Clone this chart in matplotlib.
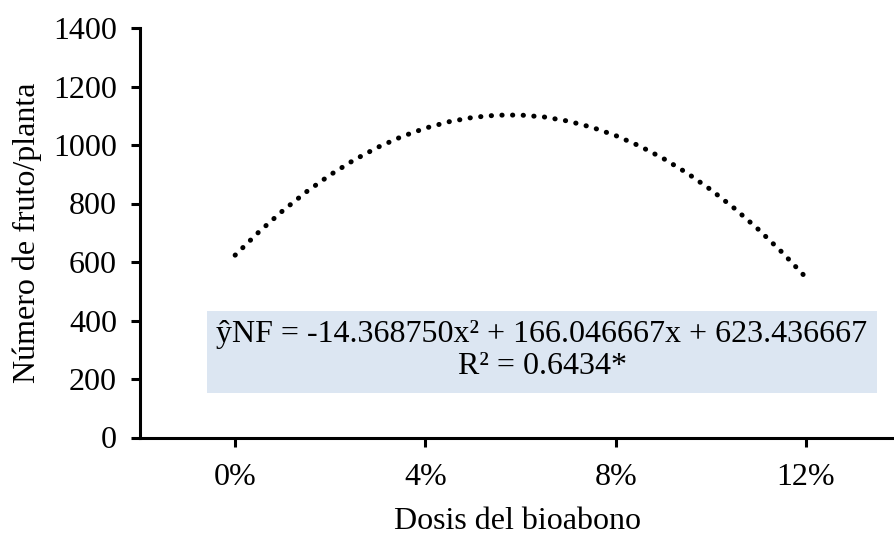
import matplotlib
matplotlib.use("Agg")
import matplotlib.pyplot as plt

# Data (dotted quadratic trend)
dose = [0, 0.5, 1, 1.5, 2, 2.5, 3, 3.5, 4, 4.5, 5, 5.5, 6, 6.5, 7, 7.5, 8,
        8.5, 9, 9.5, 10, 10.5, 11, 11.5, 12]
fruits = [623.4, 702.9, 775.1, 840.2, 898.1, 948.8, 992.3, 1028.6, 1057.7,
          1079.7, 1094.5, 1102.0, 1102.4, 1095.7, 1081.7, 1060.5, 1032.2,
          996.7, 954.0, 904.1, 847.0, 782.8, 711.3, 632.7, 546.9]
xticks = [0, 4, 8, 12]
xticklabels = ["0%", "4%", "8%", "12%"]
yticks = [0, 200, 400, 600, 800, 1000, 1200, 1400]
eq_text = "ŷNF = -14.368750x² + 166.046667x + 623.436667\nR² = 0.6434*"

plt.rcParams['font.family'] = ['Liberation Serif', 'DejaVu Serif']
FS = 23

fig = plt.figure(figsize=(8.94, 5.35), dpi=100)
ax = fig.add_axes([140/894, 1-437.5/535, 1-140/894, (437.5-28)/535])

ax.plot(dose, fruits, color='black', linewidth=3.6,
        linestyle=(0, (0.05, 2.08)), dash_capstyle='round', solid_capstyle='round')

ax.set_xlim(-2, 13.85)
ax.set_ylim(0, 1400)
ax.set_xticks(xticks)
ax.set_xticklabels(xticklabels)
ax.set_yticks(yticks)

for s in ['top', 'right']:
    ax.spines[s].set_visible(False)
for s in ['left', 'bottom']:
    ax.spines[s].set_linewidth(2.2)
ax.tick_params(axis='both', direction='out', length=6.5, width=2.2,
               labelsize=FS)
ax.tick_params(axis='y', pad=10)
ax.tick_params(axis='x', pad=12)

ax.set_xlabel("Dosis del bioabono", fontsize=FS, labelpad=11)
ax.set_ylabel("Número de fruto/planta", fontsize=FS, labelpad=8)

# Equation box
box_x0 = (207 - 140) / (894 - 140)
box_x1 = (877 - 140) / (894 - 140)
box_y0 = (437.5 - 392.5) / (437.5 - 28)
box_y1 = (437.5 - 311) / (437.5 - 28)
ax.add_patch(plt.Rectangle((box_x0, box_y0), box_x1 - box_x0, box_y1 - box_y0,
                           transform=ax.transAxes, facecolor='#DCE6F2',
                           edgecolor='none', zorder=1))
ax.text((box_x0 + box_x1) / 2, (box_y0 + box_y1) / 2 + 0.003, eq_text,
        transform=ax.transAxes, ha='center', va='center', fontsize=FS,
        linespacing=1.1, zorder=2)

fig.savefig("out.png", dpi=100)
